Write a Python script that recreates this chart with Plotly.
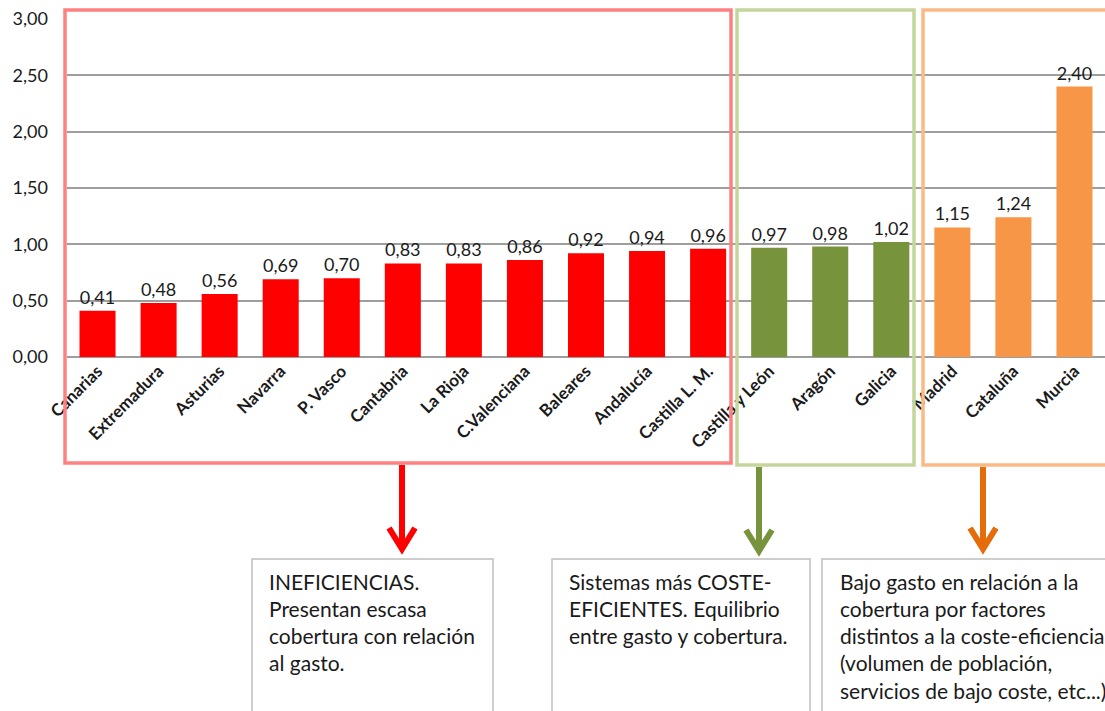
import plotly.graph_objects as go

# ---------------- data ----------------
regions = ["Canarias", "Extremadura", "Asturias", "Navarra", "P. Vasco", "Cantabria",
           "La Rioja", "C.Valenciana", "Baleares", "Andalucía", "Castilla L. M.",
           "Castilla y León", "Aragón", "Galicia", "Madrid", "Cataluña", "Murcia"]
values = [0.41, 0.48, 0.56, 0.69, 0.70, 0.83, 0.83, 0.86, 0.92, 0.94, 0.96,
          0.97, 0.98, 1.02, 1.15, 1.24, 2.40]
groups = ["inef"] * 11 + ["coste"] * 3 + ["bajo"] * 3

y_ticks = [0, 0.5, 1.0, 1.5, 2.0, 2.5, 3.0]

box_texts = {
    "inef": ["INEFICIENCIAS.", "Presentan escasa", "cobertura con relación", "al gasto."],
    "coste": ["Sistemas más COSTE-", "EFICIENTES. Equilibrio", "entre gasto y cobertura."],
    "bajo": ["Bajo gasto en relación a la", "cobertura por factores",
             "distintos a la coste-eficiencia.", "(volumen de población,",
             "servicios de bajo coste, etc...)"],
}

# ---------------- styles ----------------
bar_colors = {"inef": "#FF0000", "coste": "#77933C", "bajo": "#F79646"}
frame_colors = {"inef": "#FF8080", "coste": "#C3D69B", "bajo": "#F9BA88"}
arrow_colors = {"inef": "#FF0000", "coste": "#77933C", "bajo": "#E46C0A"}

W, H = 1105, 711
L, R, T, B = 67, 0, 19, 354
PW, PH = W - L - R, H - T - B


def px(xp):
    return (xp - L) / PW


def py(yp):
    return (H - B - yp) / PH


FONT = "Lato, 'Open Sans', sans-serif"

fig = go.Figure()
fig.add_trace(go.Bar(
    x=regions, y=values,
    marker=dict(color=[bar_colors[g] for g in groups], line=dict(width=0)),
    texttemplate="%{y:.2f}", textposition="outside",
    textfont=dict(family=FONT, size=18, color="#1a1a1a"),
    cliponaxis=False, width=0.59,
))

shapes = []
annotations = []

# group frames
frames = {"inef": (65, 731, 10, 463), "coste": (737, 914, 10, 465), "bajo": (923, 1114, 10, 465)}
for g, (x0, x1, y0, y1) in frames.items():
    shapes.append(dict(type="rect", xref="paper", yref="paper",
                       x0=px(x0), x1=px(x1), y0=py(y1), y1=py(y0),
                       line=dict(color=frame_colors[g], width=3.5), layer="above"))

# arrows
arrows = {"inef": (402, 465, 550), "coste": (759, 467, 552), "bajo": (983, 467, 550)}
for g, (ax, ya, yb) in arrows.items():
    c = arrow_colors[g]
    shapes.append(dict(type="line", xref="paper", yref="paper",
                       x0=px(ax), x1=px(ax), y0=py(ya), y1=py(yb - 4),
                       line=dict(color=c, width=6)))
    path = "M {},{} L {},{} L {},{}".format(
        px(ax - 13), py(yb - 22), px(ax), py(yb - 1), px(ax + 13), py(yb - 22))
    shapes.append(dict(type="path", xref="paper", yref="paper", path=path,
                       line=dict(color=c, width=6)))

# text boxes
boxes = {"inef": (252, 493, 267), "coste": (552, 810, 567), "bajo": (822, 1120, 838)}
for g, (x0, x1, tx) in boxes.items():
    shapes.append(dict(type="rect", xref="paper", yref="paper",
                       x0=px(x0), x1=px(x1), y0=py(730), y1=py(559),
                       line=dict(color="#BFBFBF", width=1.5), fillcolor="white"))
    for i, line in enumerate(box_texts[g]):
        annotations.append(dict(xref="paper", yref="paper", x=px(tx), y=py(581 + 27.3 * i),
                                xanchor="left", yanchor="middle", showarrow=False,
                                text=line, font=dict(family=FONT, size=21, color="#1a1a1a")))

fig.update_layout(
    width=W, height=H,
    margin=dict(l=L, r=R, t=T, b=B, pad=0),
    paper_bgcolor="white", plot_bgcolor="white",
    separators=",.",
    showlegend=False,
    bargap=0.41,
    shapes=shapes,
    annotations=annotations,
    xaxis=dict(tickangle=-45, tickfont=dict(family=FONT, size=17, color="#1a1a1a", weight="bold"),
               showgrid=False, showline=False, ticks="", automargin=False),
    yaxis=dict(range=[0, 3], tickvals=y_ticks, tickformat=".2f",
               tickfont=dict(family=FONT, size=18, color="#1a1a1a"),
               showgrid=True, gridcolor="#9E9E9E", gridwidth=1.5,
               zeroline=True, zerolinecolor="#9E9E9E", zerolinewidth=1.5,
               ticklabelstandoff=18, automargin=False),
)

fig.write_html("out.html", config={"displayModeBar": False},
               post_script="document.body.style.margin='0px';document.body.style.overflow='hidden';")
